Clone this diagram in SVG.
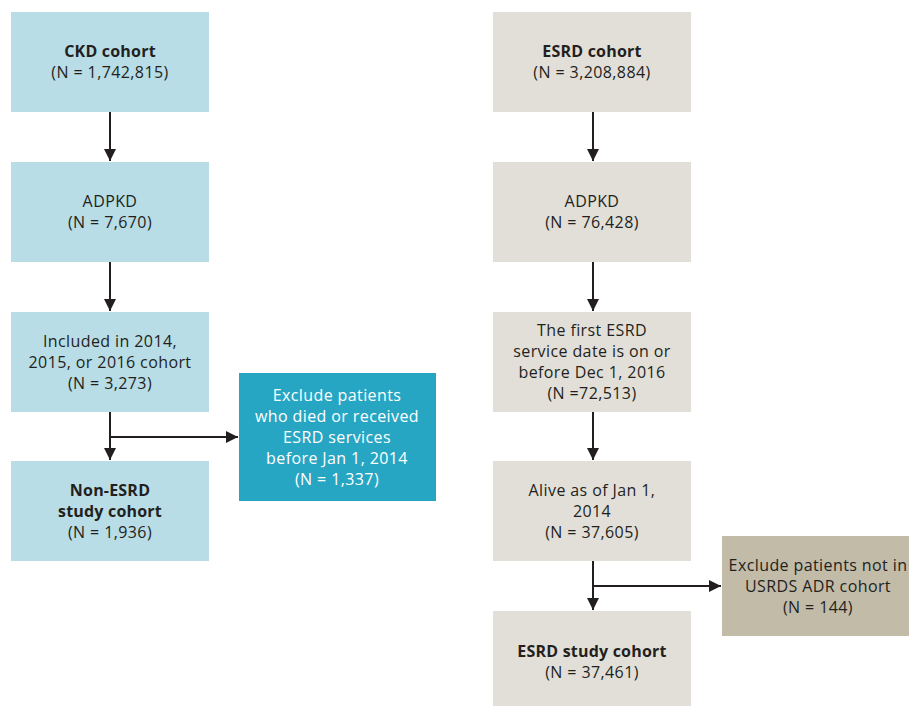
<svg xmlns="http://www.w3.org/2000/svg" width="909" height="706" viewBox="0 0 909 706">
<defs>
<style>
.ckd{fill:#b8dde6}
.ex1{fill:#27a6c4}
.esrd{fill:#e2dfd8}
.ex2{fill:#c2bba8}
text{font-family:"Open Sans","Liberation Sans",sans-serif;font-size:16px;fill:#231f20;text-anchor:middle;letter-spacing:0.4px}
.b{font-weight:bold;letter-spacing:0.2px}
.w{fill:#ffffff}
.ln{stroke:#231f20;stroke-width:2;fill:none}
</style>
<marker id="ah" markerWidth="12" markerHeight="12" viewBox="0 0 12 12" refX="12" refY="6" orient="auto" markerUnits="userSpaceOnUse">
<path d="M0,0 L12,6 L0,12 Z" fill="#231f20"/>
</marker>
</defs>
<rect width="909" height="706" fill="#ffffff"/>

<g id="connectors">
<line class="ln" x1="110" y1="112" x2="110" y2="161" marker-end="url(#ah)"/>
<line class="ln" x1="110" y1="262" x2="110" y2="311" marker-end="url(#ah)"/>
<line class="ln" x1="110" y1="412" x2="110" y2="460" marker-end="url(#ah)"/>
<line class="ln" x1="109" y1="437" x2="238" y2="437" marker-end="url(#ah)"/>
<line class="ln" x1="593" y1="112" x2="593" y2="161" marker-end="url(#ah)"/>
<line class="ln" x1="593" y1="262" x2="593" y2="311" marker-end="url(#ah)"/>
<line class="ln" x1="593" y1="412" x2="593" y2="460" marker-end="url(#ah)"/>
<line class="ln" x1="593" y1="561" x2="593" y2="610" marker-end="url(#ah)"/>
<line class="ln" x1="592" y1="586" x2="721" y2="586" marker-end="url(#ah)"/>
</g>

<g id="ckd-cohort">
<rect class="ckd" x="11" y="12" width="198" height="100"/>
<text x="110" y="57" class="b">CKD cohort</text>
<text x="110" y="78">(N = 1,742,815)</text>
</g>
<g id="ckd-adpkd">
<rect class="ckd" x="11" y="162" width="198" height="100"/>
<text x="110" y="207">ADPKD</text>
<text x="110" y="228">(N = 7,670)</text>
</g>
<g id="ckd-included">
<rect class="ckd" x="11" y="312" width="198" height="100"/>
<text x="110" y="346.5">Included in 2014,</text>
<text x="110" y="367.5">2015, or 2016 cohort</text>
<text x="110" y="388.5">(N = 3,273)</text>
</g>
<g id="non-esrd">
<rect class="ckd" x="11" y="461" width="198" height="100"/>
<text x="110" y="495.5" class="b">Non-ESRD</text>
<text x="110" y="516.5" class="b">study cohort</text>
<text x="110" y="537.5">(N = 1,936)</text>
</g>
<g id="exclude-ckd">
<rect class="ex1" x="239" y="373" width="197" height="128"/>
<text x="337" y="400.5" class="w">Exclude patients</text>
<text x="337" y="421.5" class="w">who died or received</text>
<text x="337" y="442.5" class="w">ESRD services</text>
<text x="337" y="463.5" class="w">before Jan 1, 2014</text>
<text x="337" y="484.5" class="w">(N = 1,337)</text>
</g>

<g id="esrd-cohort">
<rect class="esrd" x="493" y="12" width="198" height="100"/>
<text x="592" y="57" class="b">ESRD cohort</text>
<text x="592" y="78">(N = 3,208,884)</text>
</g>
<g id="esrd-adpkd">
<rect class="esrd" x="493" y="162" width="198" height="100"/>
<text x="592" y="207">ADPKD</text>
<text x="592" y="228">(N = 76,428)</text>
</g>
<g id="esrd-first">
<rect class="esrd" x="493" y="312" width="198" height="100"/>
<text x="592" y="336">The first ESRD</text>
<text x="592" y="357">service date is on or</text>
<text x="592" y="378">before Dec 1, 2016</text>
<text x="592" y="399">(N =72,513)</text>
</g>
<g id="esrd-alive">
<rect class="esrd" x="493" y="461" width="198" height="100"/>
<text x="592" y="495.5">Alive as of Jan 1,</text>
<text x="592" y="516.5">2014</text>
<text x="592" y="537.5">(N = 37,605)</text>
</g>
<g id="esrd-study">
<rect class="esrd" x="493" y="611" width="198" height="100"/>
<text x="592" y="656.5" class="b">ESRD study cohort</text>
<text x="592" y="677.5">(N = 37,461)</text>
</g>
<g id="exclude-esrd">
<rect class="ex2" x="722" y="536" width="198" height="100"/>
<text x="818" y="570.5">Exclude patients not in</text>
<text x="818" y="591.5">USRDS ADR cohort</text>
<text x="818" y="612.5">(N = 144)</text>
</g>
</svg>
